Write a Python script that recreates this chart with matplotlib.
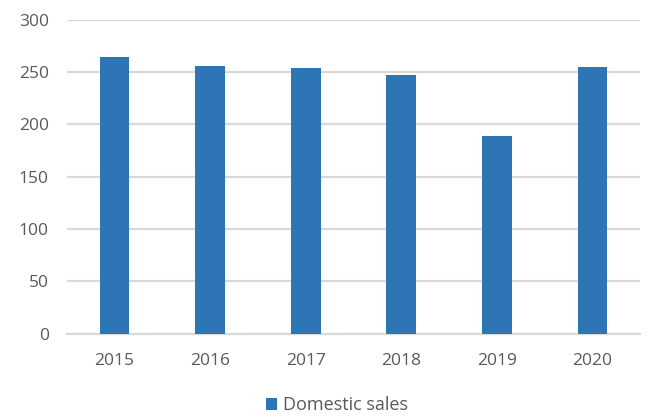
import matplotlib
matplotlib.use("Agg")
import matplotlib.pyplot as plt
from matplotlib.patches import Patch

years = ["2015", "2016", "2017", "2018", "2019", "2020"]
domestic_sales = [264, 256, 254, 247, 189, 255]
y_ticks = [0, 50, 100, 150, 200, 250, 300]

plt.rcParams['font.family'] = ['Open Sans', 'DejaVu Sans']

fig = plt.figure(figsize=(6.48, 4.17), dpi=100)
ax = fig.add_axes([0.103, 0.2, 0.885, 0.753])

x = list(range(len(years)))
ax.bar(x, domestic_sales, width=0.31, color="#2E75B6", zorder=3)

ax.set_xlim(-0.5, len(years) - 0.5)
ax.set_ylim(0, 300)
ax.set_yticks(y_ticks)
ax.set_xticks(x)
ax.set_xticklabels(years)
ax.yaxis.grid(True, color="#D9D9D9", linewidth=1.6, zorder=0)
for s in ["top", "right", "left"]:
    ax.spines[s].set_visible(False)
ax.spines["bottom"].set_color("#D9D9D9")
ax.spines["bottom"].set_linewidth(1.6)
ax.tick_params(axis="both", length=0, labelsize=12.5, labelcolor="#595959")
ax.tick_params(axis="x", pad=14)
ax.tick_params(axis="y", pad=13)

handles = [Patch(facecolor="#2E75B6", label="Domestic sales")]
fig.legend(handles=handles, loc="center", bbox_to_anchor=(0.52, 0.028), frameon=False,
           fontsize=13, labelcolor="#595959", handlelength=0.6, handleheight=0.6,
           handletextpad=0.3)

fig.savefig("out.png", dpi=100)
